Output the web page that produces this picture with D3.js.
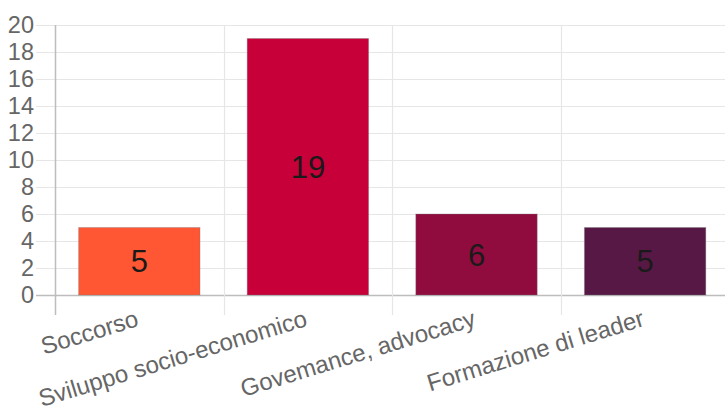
<!DOCTYPE html>
<html>
<head>
<meta charset="utf-8">
<script src="https://cdn.jsdelivr.net/npm/d3@7"></script>
<style>
  html, body { margin: 0; padding: 0; background: #fff; }
  svg { display: block; }
</style>
</head>
<body>
<svg id="chart" width="725" height="412"></svg>
<script>
// Activities by area
const categories = ["Soccorso", "Sviluppo socio-economico", "Govemance, advocacy", "Formazione di leader"];
const values = [5, 19, 6, 5];
const colors = ["#FF5733", "#C70039", "#900C3F", "#581845"];
const yTicks = [0, 2, 4, 6, 8, 10, 12, 14, 16, 18, 20];

const svg = d3.select("#chart");
const W = 725, H = 412;
const plotLeft = 55, plotRight = 729.4, plotTop = 25, plotBottom = 295;
const font = "'Liberation Sans', Arial, sans-serif";

const x = d3.scaleBand().domain(categories).range([plotLeft, plotRight]).paddingInner(0).paddingOuter(0);
const y = d3.scaleLinear().domain([0, 20]).range([plotBottom, plotTop]);

// Horizontal grid lines with left tick marks
svg.append("g").selectAll("line").data(yTicks).join("line")
  .attr("x1", 36).attr("x2", W)
  .attr("y1", d => Math.round(y(d)) + 0.5).attr("y2", d => Math.round(y(d)) + 0.5)
  .attr("stroke", d => d === 0 ? "#bdbdbd" : "#e6e6e6")
  .attr("stroke-width", d => d === 0 ? 1.5 : 1.2);

// Vertical category grid lines extending below the axis
const vx = categories.map(c => x(c));
svg.append("g").selectAll("line").data(vx).join("line")
  .attr("x1", d => Math.round(d) + 0.5).attr("x2", d => Math.round(d) + 0.5)
  .attr("y1", plotTop).attr("y2", 315)
  .attr("stroke", (d, i) => i === 0 ? "#bdbdbd" : "#e6e6e6")
  .attr("stroke-width", (d, i) => i === 0 ? 1.5 : 1.2);

// Y tick labels
svg.append("g").selectAll("text").data(yTicks).join("text")
  .attr("x", 34).attr("y", d => y(d))
  .attr("dy", "0.36em")
  .attr("text-anchor", "end")
  .attr("font-family", font).attr("font-size", 23.5)
  .attr("fill", "#666")
  .text(d => d);

// Bars (72% of each category band)
const bw = x.bandwidth() * 0.72;
svg.append("g").selectAll("rect").data(values).join("rect")
  .attr("x", (d, i) => x(categories[i]) + (x.bandwidth() - bw) / 2)
  .attr("y", d => y(d))
  .attr("width", bw)
  .attr("height", d => y(0) - y(d))
  .attr("fill", (d, i) => colors[i])
  .attr("stroke", "rgba(120,120,120,0.35)")
  .attr("stroke-width", 1);

// Value labels centered in bars
svg.append("g").selectAll("text").data(values).join("text")
  .attr("x", (d, i) => x(categories[i]) + x.bandwidth() / 2)
  .attr("y", d => (y(d) + y(0)) / 2)
  .attr("dy", "0.36em")
  .attr("text-anchor", "middle")
  .attr("font-family", font).attr("font-size", 31)
  .attr("fill", "#1a1a1a")
  .text(d => d);

// Rotated category labels
svg.append("g").selectAll("text").data(categories).join("text")
  .attr("transform", c => `translate(${x(c) + x.bandwidth() / 2 + 0.5},${325.5}) rotate(-17)`)
  .attr("text-anchor", "end")
  .attr("font-family", font).attr("font-size", 24)
  .attr("fill", "#666")
  .text(c => c);
</script>
</body>
</html>
